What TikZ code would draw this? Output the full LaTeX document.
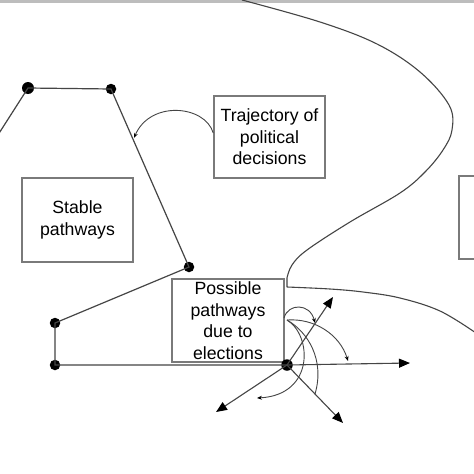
\documentclass[tikz,border=0pt]{standalone}
\usepackage{fontspec}
\setmainfont{Liberation Sans}
\usetikzlibrary{arrows.meta}
\definecolor{boxgray}{HTML}{7A7A7A}
\definecolor{linegray}{HTML}{454545}
\definecolor{bargray}{HTML}{BDBDBD}
\begin{document}
\begin{tikzpicture}[x=1pt,y=-1pt,
  box/.style={draw=boxgray, line width=1.5pt, align=center, inner sep=0pt,
    font=\fontsize{17.7}{21.5}\selectfont, text=black},
  dot/.style={circle, fill=black, inner sep=0pt, minimum size=10.5pt},
  pline/.style={draw=linegray, line width=1.2pt},
  bigarrow/.style={draw=linegray, line width=1.1pt, -{Triangle[length=11pt,width=9pt,color=black]}},
  smallarrow/.style={draw=linegray, line width=0.9pt, -{Stealth[length=5pt,width=4pt,color=black]}},
  plaincurve/.style={draw=linegray, line width=0.9pt},
  border/.style={draw=linegray, line width=1.1pt}
]
\useasboundingbox (0,0) rectangle (474,474);
\clip (0,0) rectangle (474,474);
\fill[white] (0,0) rectangle (474,474);
\fill[bargray] (0,0) rectangle (474,2.5);

% big boundary curve
\draw[border] plot[smooth, tension=0.6] coordinates {(242,0) (320,22) (377,44) (420,72) (449,105) (452,130) (443,150) (425,172) (400,193) (350,222) (307,250) (292,265) (287,278)} -- (287,287)
  plot[smooth, tension=0.6] coordinates {(287,287) (330,289) (363,292) (400,298) (440,311) (476,333)};

% boxes
\node[box, minimum width=111pt, minimum height=82pt] (traj) at (269.5,137) {Trajectory of\\political\\decisions};
\node[box, minimum width=111pt, minimum height=84pt] (stable) at (77.5,220) {Stable\\pathways};
\node[box, minimum width=112pt, minimum height=83pt] (poss) at (228,320.5) {Possible\\pathways\\due to\\elections};
\node[box, minimum width=30pt, minimum height=83pt] (rbox) at (474,217.5) {};

% polyline of decisions
\coordinate (p0) at (-4,138);
\node[dot, minimum width=10pt, minimum height=12pt] (p1) at (28,88) {};
\node[dot] (p2) at (111,89) {};
\node[dot] (p3) at (189,267) {};
\node[dot] (p4) at (55,323) {};
\node[dot] (p5) at (55,365) {};
\node[dot, minimum size=11.5pt] (p6) at (287,365) {};
\draw[pline] (p0) -- (p1.center) -- (p2.center) -- (p3.center) -- (p4.center) -- (p5.center) -- (p6.center);

% arrow from trajectory box to the path
\coordinate (tA) at (134,138);
\draw[smallarrow] (traj.west |- 0,133) .. controls (205,105) and (150,100) .. (tA);

% straight arrows from election point
\coordinate (a1) at (333,297);
\coordinate (a2) at (410,363);
\coordinate (a3) at (343,423);
\coordinate (a4) at (216,412);
\draw[bigarrow] (p6.center) -- (a1);
\draw[bigarrow] (p6.center) -- (a2);
\draw[bigarrow] (p6.center) -- (a3);
\draw[bigarrow] (p6.center) -- (a4);

% curved arrows
\coordinate (c0) at (284,318);
\coordinate (c1) at (287,320);
\coordinate (ea) at (315,323);
\coordinate (eb) at (348,361);
\coordinate (ec) at (257,398);
\coordinate (ed) at (315,394);
\draw[smallarrow] (c0) .. controls (288,303) and (310,303) .. (ea);
\draw[smallarrow] (c1) .. controls (315,318) and (340,335) .. (eb);
\draw[smallarrow] (c1) .. controls (312,335) and (315,395) .. (ec);
\draw[plaincurve] (c1) .. controls (308,332) and (325,360) .. (ed);
\end{tikzpicture}
\end{document}
